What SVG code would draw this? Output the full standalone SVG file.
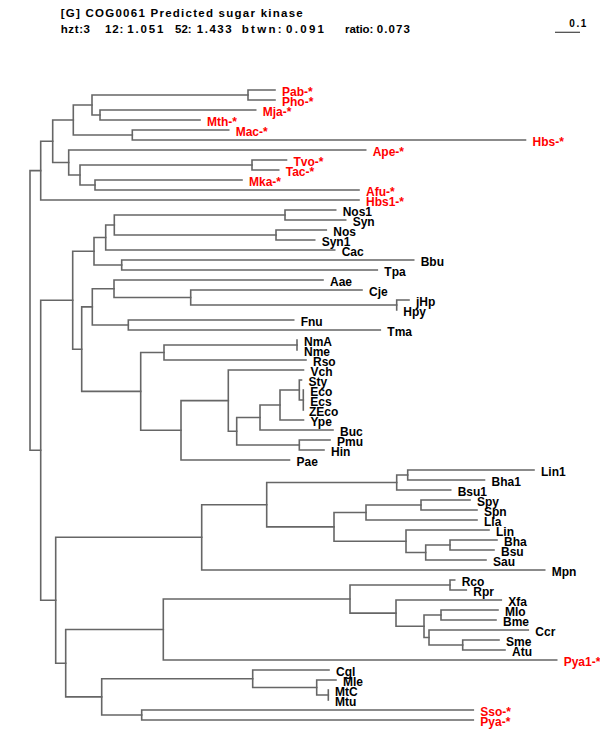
<svg xmlns="http://www.w3.org/2000/svg" width="600" height="750" viewBox="0 0 600 750">
<style>
.br{fill:none;stroke:#666;stroke-width:1.6;stroke-linecap:square}
text{font-family:"Liberation Sans",Arial,sans-serif;font-weight:bold;font-size:12px}
.lb{fill:#000}
.lr{fill:#f00}
.hd{fill:#000;font-size:11.5px}
</style>
<rect width="600" height="750" fill="#fff"/>
<g id="header">
<text class="hd" x="60.7" y="17.3" textLength="242" lengthAdjust="spacing">[G] COG0061 Predicted sugar kinase</text>
<text class="hd" x="60.7" y="33.3" textLength="29.3" lengthAdjust="spacing">hzt:3</text>
<text class="hd" x="105" y="33.3" textLength="18.3" lengthAdjust="spacing">12:</text>
<text class="hd" x="127.3" y="33.3" textLength="36" lengthAdjust="spacing">1.051</text>
<text class="hd" x="175" y="33.3" textLength="16.7" lengthAdjust="spacing">52:</text>
<text class="hd" x="196.7" y="33.3" textLength="35" lengthAdjust="spacing">1.433</text>
<text class="hd" x="241.7" y="33.3" textLength="40" lengthAdjust="spacing">btwn:</text>
<text class="hd" x="286" y="33.3" textLength="38" lengthAdjust="spacing">0.091</text>
<text class="hd" x="345" y="33.3" textLength="28.3" lengthAdjust="spacing">ratio:</text>
<text class="hd" x="376.7" y="33.3" textLength="33.3" lengthAdjust="spacing">0.073</text>
</g>
<g id="scalebar">
<line x1="555" y1="32.3" x2="580" y2="32.3" stroke="#444" stroke-width="1.2"/>
<text x="569.3" y="26.7" style="font-size:10px" textLength="17" lengthAdjust="spacing">0.1</text>
</g>
<g id="connectors" class="br">
<path d="M30 170.6V450.2M30 170.6H40.7M30 450.2H40.7"/>
<path d="M40.7 141.25V200M40.7 141.25H52.7M40.7 200H359"/>
<path d="M52.7 120V162.5M52.7 120H73.3M52.7 162.5H68.7"/>
<path d="M73.3 105V135M73.3 105H92M73.3 135H132.3"/>
<path d="M92 95V115M92 95H248M92 115H100"/>
<path d="M248 90V100M248 90H275M248 100H275"/>
<path d="M100 110V120M100 110H255.7M100 120H200"/>
<path d="M132.3 130V140M132.3 130H228.7M132.3 140H525.5"/>
<path d="M68.7 150V175M68.7 150H365.7M68.7 175H80"/>
<path d="M80 165V185M80 165H252M80 185H95"/>
<path d="M252 160V170M252 160H286.5M252 170H278.7"/>
<path d="M95 180V190M95 180H242M95 190H359"/>
<path d="M40.7 300.2V600.25M40.7 300.2H72.7M40.7 600.25H55.7"/>
<path d="M72.7 251.25V349.2M72.7 251.25H94M72.7 349.2H81.7"/>
<path d="M94 237.5V265M94 237.5H105.7M94 265H121.7"/>
<path d="M105.7 225V250M105.7 225H114.3M105.7 250H334.7"/>
<path d="M114.3 215V235M114.3 215H285M114.3 235H276"/>
<path d="M285 210V220M285 210H335.7M285 220H345.7"/>
<path d="M276 230V240M276 230H326.3M276 240H314.7"/>
<path d="M121.7 260V270M121.7 260H413.7M121.7 270H377.3"/>
<path d="M81.7 306.9V391.4M81.7 306.9H92.3M81.7 391.4H140.7"/>
<path d="M92.3 288.75V325M92.3 288.75H114M92.3 325H128.3"/>
<path d="M114 280V297.5M114 280H323M114 297.5H190.7"/>
<path d="M190.7 290V305M190.7 290H362M190.7 305H396.7"/>
<path d="M396.7 300V310M396.7 300H409"/>
<path d="M128.3 320V330M128.3 320H293.7M128.3 330H380.3"/>
<path d="M140.7 352.5V430.3M140.7 352.5H164M140.7 430.3H181"/>
<path d="M164 345V360M164 345H297M164 360H306"/>
<path d="M297 340V350"/>
<path d="M181 400.6V460M181 400.6H228.3M181 460H289.5"/>
<path d="M228.3 370V431.25M228.3 370H303.5M228.3 431.25H236.7"/>
<path d="M236.7 417.5V445M236.7 417.5H260M236.7 445H299.3"/>
<path d="M260 405V430M260 405H280M260 430H333"/>
<path d="M280 390V420M280 390H299.3M280 420H303.5"/>
<path d="M299.3 380V400M299.3 380H301.5M299.3 400H303.3"/>
<path d="M303.3 390V410"/>
<path d="M299.3 440V450M299.3 440H330M299.3 450H324"/>
<path d="M55.7 537.3V663.2M55.7 537.3H201.7M55.7 663.2H65.7"/>
<path d="M201.7 504.7V570M201.7 504.7H266.7M201.7 570H544.7"/>
<path d="M266.7 482.5V526.9M266.7 482.5H396.7M266.7 526.9H334"/>
<path d="M396.7 475V490M396.7 475H407.7M396.7 490H450.7"/>
<path d="M407.7 470V480M407.7 470H534M407.7 480H484.5"/>
<path d="M334 512.5V541.25M334 512.5H366M334 541.25H406"/>
<path d="M366 505V520M366 505H421M366 520H477"/>
<path d="M421 500V510M421 500H470M421 510H477"/>
<path d="M406 530V552.5M406 530H489M406 552.5H425.7"/>
<path d="M425.7 545V560M425.7 545H450M425.7 560H486"/>
<path d="M450 540V550M450 540H497M450 550H494"/>
<path d="M65.7 629.5V696.9M65.7 629.5H163.3M65.7 696.9H101.7"/>
<path d="M163.3 599V660M163.3 599H350M163.3 660H556.7"/>
<path d="M350 585V613.1M350 585H450M350 613.1H396"/>
<path d="M450 580V590M450 580H454.7M450 590H466.3"/>
<path d="M396 600V626.25M396 600H501.3M396 626.25H424"/>
<path d="M424 615V637.5M424 615H441M424 637.5H429"/>
<path d="M441 610V620M441 610H498M441 620H496"/>
<path d="M429 630V645M429 630H528.3M429 645H462.7"/>
<path d="M462.7 640V650M462.7 640H499M462.7 650H505"/>
<path d="M101.7 678.75V715M101.7 678.75H252.7M101.7 715H141.7"/>
<path d="M252.7 670V687.5M252.7 670H329M252.7 687.5H316.7"/>
<path d="M316.7 680V695M316.7 680H336M316.7 695H328.3"/>
<path d="M328.3 690V700"/>
<path d="M141.7 710V720M141.7 710H473.3M141.7 720H473.3"/>
</g>
<g id="Pab"><text class="lr" x="282" y="95.5">Pab-*</text></g>
<g id="Pho"><text class="lr" x="282" y="105.5">Pho-*</text></g>
<g id="Mja"><text class="lr" x="262.7" y="115.5">Mja-*</text></g>
<g id="Mth"><text class="lr" x="207" y="125.5">Mth-*</text></g>
<g id="Mac"><text class="lr" x="235.7" y="135.5">Mac-*</text></g>
<g id="Hbs"><text class="lr" x="532.5" y="145.5">Hbs-*</text></g>
<g id="Ape"><text class="lr" x="372.7" y="155.5">Ape-*</text></g>
<g id="Tvo"><text class="lr" x="293.5" y="165.5">Tvo-*</text></g>
<g id="Tac"><text class="lr" x="285.7" y="175.5">Tac-*</text></g>
<g id="Mka"><text class="lr" x="249" y="185.5">Mka-*</text></g>
<g id="Afu"><text class="lr" x="366" y="195.5">Afu-*</text></g>
<g id="Hbs1"><text class="lr" x="366" y="205.5">Hbs1-*</text></g>
<g id="Nos1"><text class="lb" x="342.7" y="215.5">Nos1</text></g>
<g id="Syn"><text class="lb" x="352.7" y="225.5">Syn</text></g>
<g id="Nos"><text class="lb" x="333.3" y="235.5">Nos</text></g>
<g id="Syn1"><text class="lb" x="321.7" y="245.5">Syn1</text></g>
<g id="Cac"><text class="lb" x="341.7" y="255.5">Cac</text></g>
<g id="Bbu"><text class="lb" x="420.7" y="265.5">Bbu</text></g>
<g id="Tpa"><text class="lb" x="384.3" y="275.5">Tpa</text></g>
<g id="Aae"><text class="lb" x="330" y="285.5">Aae</text></g>
<g id="Cje"><text class="lb" x="369" y="295.5">Cje</text></g>
<g id="jHp"><text class="lb" x="416" y="305.5">jHp</text></g>
<g id="Hpy"><text class="lb" x="403.3" y="315.5">Hpy</text></g>
<g id="Fnu"><text class="lb" x="300.7" y="325.5">Fnu</text></g>
<g id="Tma"><text class="lb" x="387.3" y="335.5">Tma</text></g>
<g id="NmA"><text class="lb" x="304" y="345.5">NmA</text></g>
<g id="Nme"><text class="lb" x="304" y="355.5">Nme</text></g>
<g id="Rso"><text class="lb" x="313" y="365.5">Rso</text></g>
<g id="Vch"><text class="lb" x="310.5" y="375.5">Vch</text></g>
<g id="Sty"><text class="lb" x="308.5" y="385.5">Sty</text></g>
<g id="Eco"><text class="lb" x="310.3" y="395.5">Eco</text></g>
<g id="Ecs"><text class="lb" x="310.3" y="405.5">Ecs</text></g>
<g id="ZEco"><text class="lb" x="309" y="415.5">ZEco</text></g>
<g id="Ype"><text class="lb" x="310.5" y="425.5">Ype</text></g>
<g id="Buc"><text class="lb" x="340" y="435.5">Buc</text></g>
<g id="Pmu"><text class="lb" x="337" y="445.5">Pmu</text></g>
<g id="Hin"><text class="lb" x="331" y="455.5">Hin</text></g>
<g id="Pae"><text class="lb" x="296.5" y="465.5">Pae</text></g>
<g id="Lin1"><text class="lb" x="541" y="475.5">Lin1</text></g>
<g id="Bha1"><text class="lb" x="491.5" y="485.5">Bha1</text></g>
<g id="Bsu1"><text class="lb" x="457.7" y="495.5">Bsu1</text></g>
<g id="Spy"><text class="lb" x="477" y="505.5">Spy</text></g>
<g id="Spn"><text class="lb" x="484" y="515.5">Spn</text></g>
<g id="Lla"><text class="lb" x="484" y="525.5">Lla</text></g>
<g id="Lin"><text class="lb" x="496" y="535.5">Lin</text></g>
<g id="Bha"><text class="lb" x="504" y="545.5">Bha</text></g>
<g id="Bsu"><text class="lb" x="501" y="555.5">Bsu</text></g>
<g id="Sau"><text class="lb" x="493" y="565.5">Sau</text></g>
<g id="Mpn"><text class="lb" x="551.7" y="575.5">Mpn</text></g>
<g id="Rco"><text class="lb" x="461.7" y="585.5">Rco</text></g>
<g id="Rpr"><text class="lb" x="473.3" y="595.5">Rpr</text></g>
<g id="Xfa"><text class="lb" x="508.3" y="605.5">Xfa</text></g>
<g id="Mlo"><text class="lb" x="505" y="615.5">Mlo</text></g>
<g id="Bme"><text class="lb" x="503" y="625.5">Bme</text></g>
<g id="Ccr"><text class="lb" x="535.3" y="635.5">Ccr</text></g>
<g id="Sme"><text class="lb" x="506" y="645.5">Sme</text></g>
<g id="Atu"><text class="lb" x="512" y="655.5">Atu</text></g>
<g id="Pya1"><text class="lr" x="563.7" y="665.5">Pya1-*</text></g>
<g id="Cgl"><text class="lb" x="336" y="675.5">Cgl</text></g>
<g id="Mle"><text class="lb" x="343" y="685.5">Mle</text></g>
<g id="MtC"><text class="lb" x="335" y="695.5">MtC</text></g>
<g id="Mtu"><text class="lb" x="335" y="705.5">Mtu</text></g>
<g id="Sso"><text class="lr" x="480.3" y="715.5">Sso-*</text></g>
<g id="Pya"><text class="lr" x="480.3" y="725.5">Pya-*</text></g>
</svg>
